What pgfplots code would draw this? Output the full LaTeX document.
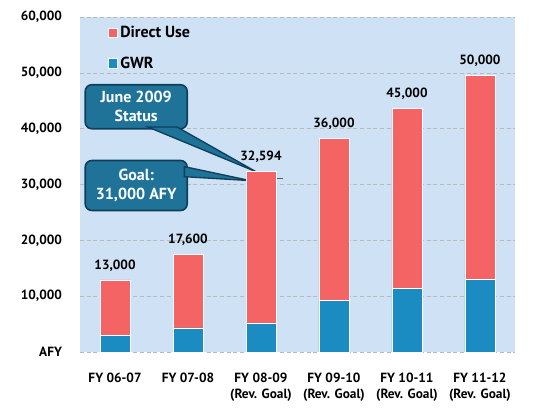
\documentclass[border=0pt]{standalone}
\usepackage{pgfplots}
\pgfplotsset{compat=1.18}
\usepackage{fontspec}
\setmainfont{PT Sans}
\definecolor{directred}{HTML}{F56464}
\definecolor{gwrblue}{HTML}{1B8CC2}
\definecolor{plotbg}{HTML}{CFE1F5}
\definecolor{boxfill}{HTML}{1F7399}
\definecolor{boxedge}{HTML}{0E3F5A}

\begin{document}
\begin{tikzpicture}
\useasboundingbox (0,0) rectangle (414pt,-312.75pt);
\begin{axis}[
    at={(60pt,-264pt)}, anchor=south west,
    scale only axis, width=326.25pt, height=251.25pt,
    ybar stacked, bar width=22.5pt,
    xmin=-0.48, xmax=5.48, ymin=0, ymax=60000,
    scaled y ticks=false,
    axis background/.style={fill=plotbg},
    axis line style={draw=none},
    ymajorgrids, grid style={densely dashed, gray!55},
    xtick={0,...,5},
    xticklabels={FY 06-07, FY 07-08, FY 08-09\\(Rev. Goal), FY 09-10\\(Rev. Goal), FY 10-11\\(Rev. Goal), FY 11-12\\(Rev. Goal)},
    xticklabel style={align=center, font=\bfseries, yshift=-12pt},
    ytick={0,10000,...,60000},
    yticklabels={AFY,{10,000},{20,000},{30,000},{40,000},{50,000},{60,000}},
    yticklabel style={font=\bfseries, xshift=-10pt},
    tick style={draw=none},
    reverse legend,
    legend style={draw=none, fill=none, at={(0.055,0.99)}, anchor=north west,
        font=\large\bfseries, row sep=9pt, legend cell align=left},
    legend image code/.code={\fill[#1] (0pt,-3.5pt) rectangle (6.5pt,3.5pt);},
    every axis plot/.append style={draw=white, line width=0.6pt},
  ]
\addplot[fill=gwrblue] coordinates {(0,2900) (1,4300) (2,5200) (3,9300) (4,11400) (5,13000)};
\addplot[fill=directred] coordinates {(0,10000) (1,13200) (2,27100) (3,28900) (4,32200) (5,36600)};
\legend{GWR, Direct Use}
% value labels on top of the stacks (near-zero-height segment)
\addplot[draw=none, fill=none, forget plot,
    nodes near coords, point meta=explicit symbolic,
    every node near coord/.append style={font=\bfseries, text=black, anchor=south, yshift=3pt}]
    table[meta=lab] {
x y lab
0 1 {13,000}
1 1 {17,600}
2 1 {32,594}
3 1 {36,000}
4 1 {45,000}
5 1 {50,000}
};
% goal marker line
\draw[gray!70!black, line width=0.8pt] (axis cs:1.81,31000) -- (axis cs:2.30,31000);
% callouts
\filldraw[fill=boxfill, draw=boxedge, line width=1pt]
    (axis cs:0.45,40300) -- (axis cs:1.93,32300) -- (axis cs:0.85,40300) -- cycle;
\filldraw[fill=boxfill, draw=boxedge, line width=1pt]
    (axis cs:0.95,33200) -- (axis cs:1.85,30700) -- (axis cs:0.95,31400) -- cycle;
\node[fill=boxfill, draw=boxedge, line width=1.2pt, rounded corners=5pt,
      minimum width=76.5pt, minimum height=33pt, align=center,
      text=white, font=\large\bfseries, inner sep=2pt]
    at (axis cs:0.29,43930) {June 2009\\Status};
\node[fill=boxfill, draw=boxedge, line width=1.2pt, rounded corners=5pt,
      minimum width=76.5pt, minimum height=37.5pt, align=center,
      text=white, font=\large\bfseries, inner sep=2pt]
    at (axis cs:0.29,29820) {Goal:\\31,000 AFY};
\end{axis}
\end{tikzpicture}
\end{document}
